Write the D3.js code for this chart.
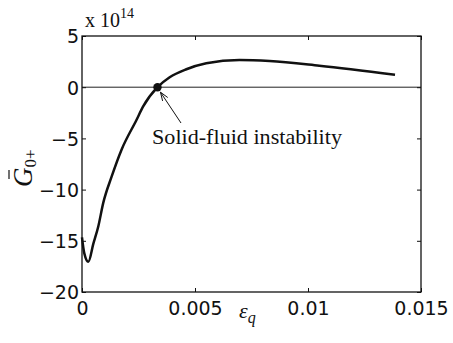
<!DOCTYPE html>
<html><head><meta charset="utf-8">
<script src="https://cdn.jsdelivr.net/npm/d3@7"></script>
<style>body{margin:0;background:#fff}svg{display:block}</style>
</head><body>
<script>
// data (G in units of 1e14)
const epsQ = [0, 0.0001, 0.00028, 0.0005, 0.00072, 0.00094, 0.00131, 0.00175, 0.00241, 0.0027, 0.00334, 0.00388, 0.00462, 0.0055, 0.00697, 0.0083, 0.0105, 0.01385];
const G0 = [-14.66, -16.2, -17.04, -15.3, -13.6, -11.3, -8.74, -6.1, -3.2, -1.9, 0, 0.97, 1.75, 2.33, 2.66, 2.56, 2.1, 1.22];
const xTicks = [0, 0.005, 0.01, 0.015];
const xTickLabels = ["0", "0.005", "0.01", "0.015"];
const yTicks = [5, 0, -5, -10, -15, -20];
const yTickLabels = ["5", "0", "\u22125", "\u221210", "\u221215", "\u221220"];
const instability = {eps: 0.00334, g: 0, label: "Solid-fluid instability"};

const W = 453, H = 343;
const svg = d3.select("body").append("svg").attr("width", W).attr("height", H);
const x = d3.scaleLinear().domain([0, 0.015]).range([82, 421]);
const y = d3.scaleLinear().domain([-20, 5]).range([292, 36]);
const tickFont = "'DejaVu Sans', sans-serif";
const serif = "'Liberation Serif', 'DejaVu Serif', serif";

// zero line
svg.append("line").attr("x1", x(0)).attr("x2", x(0.015)).attr("y1", y(0)).attr("y2", y(0))
  .attr("stroke", "#222").attr("stroke-width", 1);

// axes (box with inward ticks)
const axB = d3.axisBottom(x).tickValues(xTicks).tickSize(-4).tickFormat((d, i) => xTickLabels[i]);
const axT = d3.axisTop(x).tickValues(xTicks).tickSize(-4).tickFormat("");
const axL = d3.axisLeft(y).tickValues(yTicks).tickSize(-4).tickFormat((d, i) => yTickLabels[i]);
const axR = d3.axisRight(y).tickValues(yTicks).tickSize(-4).tickFormat("");
function style(g) {
  g.select(".domain").attr("stroke", "#111").attr("stroke-width", 1.3);
  g.selectAll(".tick line").attr("stroke", "#111").attr("stroke-width", 1);
  g.selectAll("text").attr("font-family", tickFont).attr("font-size", 19).attr("fill", "#111");
}
svg.append("g").attr("transform", `translate(0,${y(-20)})`).call(axB).call(style)
  .selectAll("text").attr("dy", "0.95em").attr("y", 5);
svg.append("g").attr("transform", `translate(0,${y(5)})`).call(axT).call(style);
svg.append("g").attr("transform", `translate(${x(0)},0)`).call(axL).call(style)
  .selectAll("text").attr("x", -3).attr("dy", "0.36em");
svg.append("g").attr("transform", `translate(${x(0.015)},0)`).call(axR).call(style);
svg.selectAll(".domain").attr("d", null);
svg.append("rect").attr("x", x(0)).attr("y", y(5)).attr("width", x(0.015) - x(0)).attr("height", y(-20) - y(5))
  .attr("fill", "none").attr("stroke", "#111").attr("stroke-width", 1.3);

// curve
const line = d3.line().x((d, i) => x(epsQ[i])).y((d, i) => y(G0[i])).curve(d3.curveMonotoneX);
svg.append("path").attr("d", line(G0)).attr("fill", "none").attr("stroke", "#111").attr("stroke-width", 2.5)
  .attr("stroke-linejoin", "round");

// instability marker
const px = x(instability.eps), py = y(instability.g);
svg.append("circle").attr("cx", px).attr("cy", py).attr("r", 4.2).attr("fill", "#111");
const ax0 = 181, ay0 = 123, ax1 = px + 3, ay1 = py + 5;
svg.append("line").attr("x1", ax0).attr("y1", ay0).attr("x2", ax1).attr("y2", ay1).attr("stroke", "#111").attr("stroke-width", 1);
const ang = Math.atan2(ay1 - ay0, ax1 - ax0);
const hl = 9, ha = 0.35;
svg.append("path").attr("d",
  `M${ax1 - hl * Math.cos(ang - ha)},${ay1 - hl * Math.sin(ang - ha)} L${ax1},${ay1} L${ax1 - hl * Math.cos(ang + ha)},${ay1 - hl * Math.sin(ang + ha)}`)
  .attr("fill", "none").attr("stroke", "#111").attr("stroke-width", 1);
svg.append("text").attr("x", 152).attr("y", 143.5).attr("font-family", serif).attr("font-size", 21)
  .attr("textLength", 190).attr("lengthAdjust", "spacingAndGlyphs")
  .attr("fill", "#111").text(instability.label);

// exponent label
const ex = svg.append("text").attr("x", 85).attr("y", 27).attr("font-family", serif).attr("font-size", 20).attr("fill", "#111");
ex.append("tspan").text("x 10");
ex.append("tspan").attr("font-size", 14).attr("dy", -9).text("14");

// x label
const xl = svg.append("text").attr("x", 239).attr("y", 318).attr("font-family", serif).attr("fill", "#111");
xl.append("tspan").attr("font-style", "italic").attr("font-size", 22).text("\u03b5");
xl.append("tspan").attr("font-style", "italic").attr("font-size", 16).attr("dy", 5).text("q");

// y label
const yl = svg.append("g").attr("transform", "translate(32,187) rotate(-90)");
const yt = yl.append("text").attr("x", 0).attr("y", 0).attr("font-family", serif).attr("fill", "#111");
yt.append("tspan").attr("font-style", "italic").attr("font-size", 27).text("G");
yt.append("tspan").attr("font-size", 17).attr("dy", 4).text("0+");
yl.append("line").attr("x1", 8).attr("x2", 17).attr("y1", -23).attr("y2", -23).attr("stroke", "#111").attr("stroke-width", 1.2);
</script>
</body></html>
